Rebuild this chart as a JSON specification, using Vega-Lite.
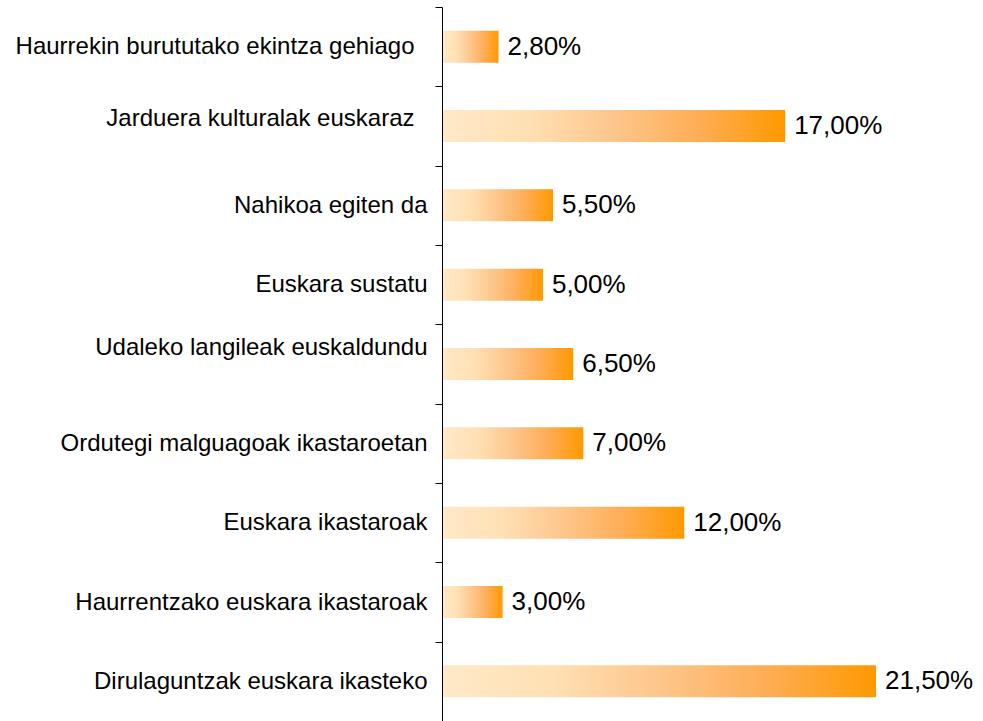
{
  "$schema": "https://vega.github.io/schema/vega-lite/v6.json",
  "width": 434,
  "height": 714,
  "autosize": "none",
  "padding": {"left": 442, "top": 7, "right": 107, "bottom": 0},
  "background": "#ffffff",
  "config": {
    "view": {"stroke": null},
    "locale": {
      "number": {"decimal": ",", "thousands": ".", "grouping": [3], "currency": ["", " €"]}
    }
  },
  "data": {
    "values": [
      {"category": "Haurrekin burututako ekintza gehiago", "value": 0.028},
      {"category": "Jarduera kulturalak euskaraz", "value": 0.17},
      {"category": "Nahikoa egiten da", "value": 0.055},
      {"category": "Euskara sustatu", "value": 0.05},
      {"category": "Udaleko langileak euskaldundu", "value": 0.065},
      {"category": "Ordutegi malguagoak ikastaroetan", "value": 0.07},
      {"category": "Euskara ikastaroak", "value": 0.12},
      {"category": "Haurrentzako euskara ikastaroak", "value": 0.03},
      {"category": "Dirulaguntzak euskara ikasteko", "value": 0.215}
    ]
  },
  "encoding": {
    "y": {
      "field": "category",
      "type": "nominal",
      "sort": null,
      "scale": {"paddingInner": 0, "paddingOuter": 0},
      "axis": {
        "title": null,
        "zindex": 1,
        "tickBand": "extent",
        "domainColor": "#000000",
        "domainWidth": 1,
        "tickColor": "#000000",
        "tickWidth": 1,
        "tickSize": 7,
        "labelFont": "Liberation Sans",
        "labelFontSize": 24,
        "labelColor": "#000000",
        "labelLimit": 500,
        "labelPadding": {
          "condition": [
            {"test": "datum.value === 'Haurrekin burututako ekintza gehiago'", "value": 21},
            {"test": "datum.value === 'Jarduera kulturalak euskaraz'", "value": 21}
          ],
          "value": 8
        },
        "labelOffset": {
          "condition": [
            {"test": "datum.value === 'Udaleko langileak euskaldundu'", "value": -17},
            {"test": "datum.value === 'Jarduera kulturalak euskaraz'", "value": -8}
          ],
          "value": 0
        }
      }
    },
    "x": {
      "field": "value",
      "type": "quantitative",
      "scale": {"domain": [0, 0.215], "nice": false, "zero": true},
      "axis": null
    }
  },
  "layer": [
    {
      "mark": {
        "type": "bar",
        "size": 32,
        "color": {
          "gradient": "linear",
          "x1": 0, "y1": 0, "x2": 1, "y2": 0,
          "stops": [
            {"offset": 0, "color": "#FFE9C8"},
            {"offset": 0.25, "color": "#FFE0B4"},
            {"offset": 0.5, "color": "#FDC68C"},
            {"offset": 0.75, "color": "#FFAD55"},
            {"offset": 1, "color": "#FF9900"}
          ]
        }
      }
    },
    {
      "mark": {
        "type": "text",
        "align": "left",
        "baseline": "middle",
        "dx": 9,
        "font": "Liberation Sans",
        "fontSize": 26,
        "color": "#000000"
      },
      "encoding": {
        "text": {"field": "value", "type": "quantitative", "format": ".2%"}
      }
    }
  ]
}
